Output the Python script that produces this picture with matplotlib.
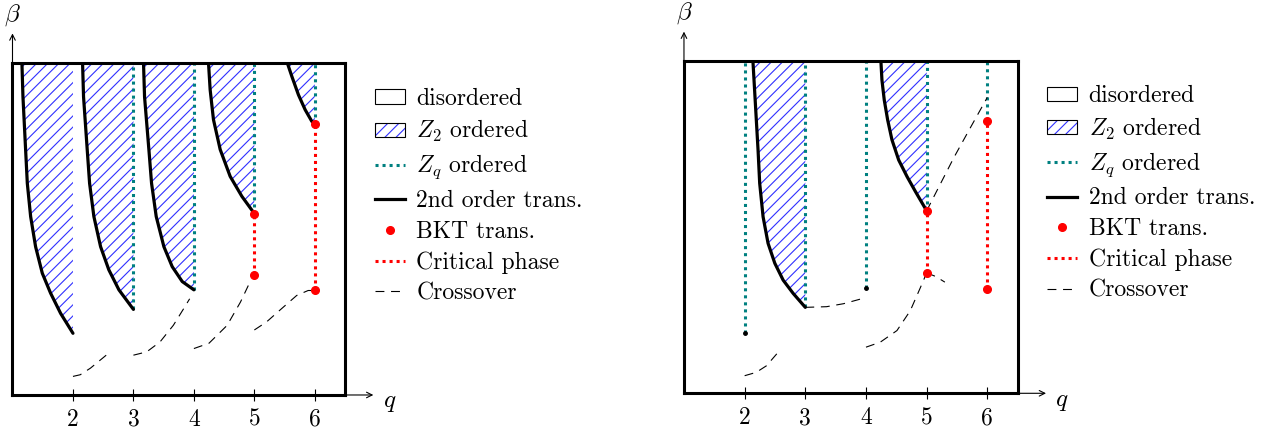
import matplotlib.pyplot as plt
from matplotlib.patches import Patch
from matplotlib.lines import Line2D

plt.rcParams['font.family'] = 'cmr10'
plt.rcParams['mathtext.fontset'] = 'cm'
plt.rcParams['axes.formatter.use_mathtext'] = True
plt.rcParams['hatch.linewidth'] = 0.8

TEAL = '#008080'
HATCH = '#3030ff'
DOT = (0, (1, 1.3))

tick_q = [2, 3, 4, 5, 6]
tick_labels = ['2', '3', '4', '5', '6']

# ---- left panel ----
# 2nd order transition curves (q, beta), top -> end point
left_trans = [
    ([1.156, 1.173, 1.217, 1.245, 1.300, 1.382, 1.493, 1.630, 1.796, 2.0],
     [1.0, 0.899, 0.739, 0.638, 0.538, 0.447, 0.367, 0.307, 0.246, 0.186]),
    ([2.159, 2.175, 2.236, 2.275, 2.346, 2.457, 2.594, 2.76, 3.0],
     [1.0, 0.899, 0.739, 0.638, 0.538, 0.447, 0.377, 0.317, 0.258]),
    ([3.167, 3.184, 3.256, 3.30, 3.377, 3.504, 3.641, 3.807, 4.0],
     [1.0, 0.899, 0.739, 0.638, 0.538, 0.447, 0.387, 0.342, 0.317]),
    ([4.242, 4.269, 4.324, 4.435, 4.60, 4.793, 5.0],
     [1.0, 0.920, 0.830, 0.740, 0.659, 0.599, 0.547]),
    ([5.547, 5.619, 5.729, 5.84, 5.95, 6.0],
     [1.0, 0.961, 0.905, 0.860, 0.825, 0.817]),
]
left_zq = [(3, 0.258, 1.0), (4, 0.317, 1.0), (5, 0.547, 1.0), (6, 0.817, 1.0)]
left_crit = [(5, 0.363, 0.547), (6, 0.315, 0.817)]
left_bkt_q = [5, 5, 6, 6]
left_bkt_b = [0.547, 0.363, 0.817, 0.315]
left_black_q = []
left_black_b = []
left_cross = [
    ([2.0, 2.12, 2.29, 2.55], [0.056, 0.061, 0.081, 0.12]),
    ([3.0, 3.22, 3.44, 3.66, 3.83, 3.93], [0.12, 0.13, 0.16, 0.21, 0.26, 0.29]),
    ([4.0, 4.25, 4.55, 4.77, 4.9], [0.14, 0.156, 0.21, 0.28, 0.33]),
    ([5.0, 5.2, 5.48, 5.7, 5.89, 6.0], [0.196, 0.22, 0.265, 0.30, 0.315, 0.315]),
]

# ---- right panel ----
right_trans = [
    ([2.137, 2.221, 2.248, 2.304, 2.386, 2.497, 2.635, 2.80, 3.0],
     [1.0, 0.733, 0.633, 0.532, 0.452, 0.392, 0.341, 0.301, 0.259]),
    ([4.246, 4.263, 4.301, 4.357, 4.428, 4.539, 4.677, 4.815, 5.0],
     [1.0, 0.944, 0.884, 0.824, 0.764, 0.703, 0.653, 0.608, 0.55]),
]
right_zq = [(2, 0.182, 1.0), (3, 0.259, 1.0), (4, 0.317, 1.0), (5, 0.55, 1.0), (6, 0.82, 1.0)]
right_crit = [(5, 0.363, 0.55), (6, 0.313, 0.82)]
right_bkt_q = [5, 5, 6, 6]
right_bkt_b = [0.55, 0.363, 0.82, 0.313]
right_black_q = [2, 4]
right_black_b = [0.182, 0.317]
right_cross = [
    ([2.0, 2.19, 2.36, 2.53], [0.053, 0.063, 0.083, 0.119]),
    ([3.0, 3.35, 3.63, 3.93], [0.259, 0.261, 0.27, 0.285]),
    ([4.0, 4.235, 4.51, 4.73, 4.9, 5.0], [0.139, 0.154, 0.189, 0.249, 0.32, 0.363]),
    ([5.0, 5.17, 5.45, 5.725, 6.0], [0.55, 0.611, 0.711, 0.802, 0.892]),
    ([5.0, 5.15, 5.3], [0.363, 0.352, 0.335]),
]

labels = ['disordered', r'$Z_2$ ordered', r'$Z_q$ ordered', '2nd order trans.',
          'BKT trans.', 'Critical phase', 'Crossover']


def panel(ax, trans, zq, crit, bkt_q, bkt_b, black_q, black_b, cross):
    for qs, bs in trans:
        ax.fill_betweenx(bs, qs, qs[-1], facecolor='none', edgecolor=HATCH,
                         hatch='///', linewidth=0, zorder=1)
    for q, b0, b1 in zq:
        ax.plot([q, q], [b0, b1], color=TEAL, lw=2.2, ls=DOT, zorder=2)
    for q, b0, b1 in crit:
        ax.plot([q, q], [b0, b1], color='red', lw=2.2, ls=DOT, zorder=2)
    for qs, bs in cross:
        ax.plot(qs, bs, color='black', lw=0.8, dashes=(8, 6), zorder=2)
    for qs, bs in trans:
        ax.plot(qs, bs, color='black', lw=2.3, zorder=3,
                solid_capstyle='round', solid_joinstyle='round')
    ax.plot(bkt_q, bkt_b, 'o', color='red', ms=5.5, zorder=5)
    if black_q:
        ax.plot(black_q, black_b, 'o', color='black', ms=2.5, zorder=5)

    ax.set_xlim(1, 6.5)
    ax.set_ylim(0, 1)
    ax.set_xticks(tick_q)
    ax.set_xticklabels(tick_labels)
    ax.set_yticks([])
    ax.tick_params(axis='x', direction='inout', length=8, width=0.8, pad=6,
                   labelsize=17)
    for s in ax.spines.values():
        s.set_linewidth(2.2)

    ax.annotate('', xy=(1.085, 0), xytext=(1, 0), xycoords='axes fraction',
                arrowprops=dict(arrowstyle='->', lw=0.8, color='black',
                                shrinkA=0, shrinkB=0), annotation_clip=False)
    ax.annotate('', xy=(0, 1.09), xytext=(0, 1), xycoords='axes fraction',
                arrowprops=dict(arrowstyle='->', lw=0.8, color='black',
                                shrinkA=0, shrinkB=0), annotation_clip=False)
    ax.text(1.133, -0.025, r'$q$', transform=ax.transAxes, fontsize=18,
            ha='center', va='center')
    ax.text(0.0, 1.145, r'$\beta$', transform=ax.transAxes, fontsize=18,
            ha='center', va='center')


def legend_handles():
    return [
        Patch(facecolor='white', edgecolor='black', lw=0.8),
        (Patch(facecolor='none', edgecolor=HATCH, hatch='///', lw=0),
         Patch(facecolor='none', edgecolor='black', lw=0.8)),
        Line2D([], [], color=TEAL, lw=2.2, ls=DOT),
        Line2D([], [], color='black', lw=2.3),
        Line2D([], [], ls='none', marker='o', color='red', ms=5.5),
        Line2D([], [], color='red', lw=2.2, ls=DOT),
        Line2D([], [], color='black', lw=0.8, dashes=(8, 6)),
    ]


fig = plt.figure(figsize=(12.83, 4.34), dpi=100)
ax1 = fig.add_axes([0.00974, 0.0899, 0.2592, 0.7643])
ax2 = fig.add_axes([0.5331, 0.0938, 0.2601, 0.7645])

panel(ax1, left_trans, left_zq, left_crit, left_bkt_q, left_bkt_b,
      left_black_q, left_black_b, left_cross)
panel(ax2, right_trans, right_zq, right_crit, right_bkt_q, right_bkt_b,
      right_black_q, right_black_b, right_cross)

for ax, x0, y0 in [(ax1, 0.2923, 0.798), (ax2, 0.8163, 0.804)]:
    ax.legend(legend_handles(), labels, loc='upper left', bbox_to_anchor=(x0, y0),
              bbox_transform=fig.transFigure, frameon=False, fontsize=17,
              handlelength=1.25, handleheight=0.55, handletextpad=0.5,
              labelspacing=0.36, borderpad=0, borderaxespad=0)

fig.savefig('out.png', dpi=100)
